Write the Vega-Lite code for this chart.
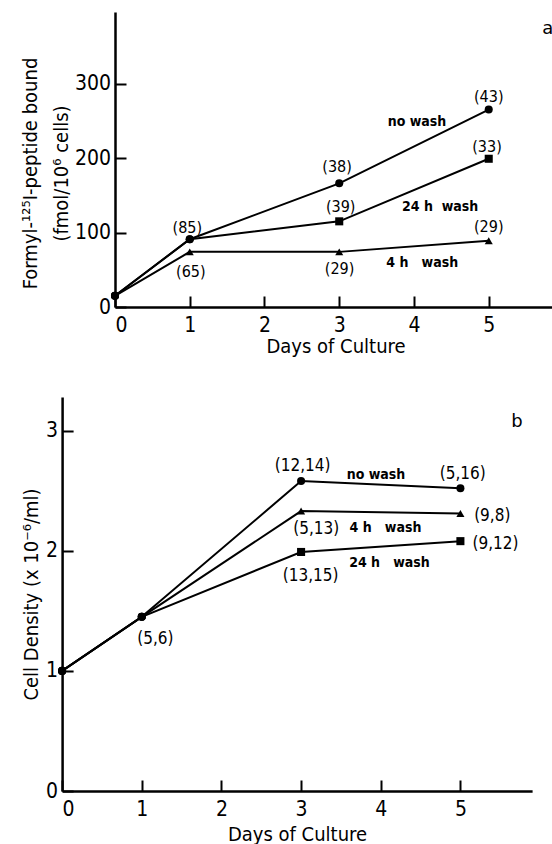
{
  "$schema": "https://vega.github.io/schema/vega-lite/v6.json",
  "background": "white",
  "padding": {"left": 20, "top": 12, "right": 0, "bottom": 0},
  "spacing": 41,
  "config": {
    "view": {"stroke": null},
    "axis": {
      "grid": false,
      "domainColor": "black",
      "domainWidth": 2.5,
      "tickColor": "black",
      "tickWidth": 2,
      "tickSize": -11,
      "labelFont": "DejaVu Sans Condensed",
      "labelFontSize": 21,
      "labelColor": "black",
      "titleFont": "DejaVu Sans Condensed",
      "titleFontSize": 20,
      "titleFontWeight": "normal",
      "titleColor": "black",
      "format": "d"
    },
    "axisX": {"labelPadding": 18, "titlePadding": 1},
    "axisY": {"labelPadding": 15.5, "titlePadding": 3}
  },
  "datasets": {
    "a_pts": [
      {"series": "no wash", "day": 0, "value": 15},
      {"series": "no wash", "day": 1, "value": 91},
      {"series": "no wash", "day": 3, "value": 166},
      {"series": "no wash", "day": 5, "value": 265},
      {"series": "24 h wash", "day": 0, "value": 15},
      {"series": "24 h wash", "day": 1, "value": 91},
      {"series": "24 h wash", "day": 3, "value": 115},
      {"series": "24 h wash", "day": 5, "value": 199},
      {"series": "4 h wash", "day": 0, "value": 15},
      {"series": "4 h wash", "day": 1, "value": 74},
      {"series": "4 h wash", "day": 3, "value": 74},
      {"series": "4 h wash", "day": 5, "value": 89}
    ],
    "a_txt": [
      {"kind": "n", "text": "(85)", "day": 0.967, "value": 99.6},
      {"kind": "n", "text": "(65)", "day": 1.014, "value": 40},
      {"kind": "n", "text": "(38)", "day": 2.971, "value": 181},
      {"kind": "n", "text": "(39)", "day": 3.019, "value": 127.3},
      {"kind": "n", "text": "(29)", "day": 3.005, "value": 44.6},
      {"kind": "n", "text": "(43)", "day": 5.0, "value": 275},
      {"kind": "n", "text": "(33)", "day": 4.977, "value": 208.7},
      {"kind": "n", "text": "(29)", "day": 5.0, "value": 100.4},
      {"kind": "series", "text": "no wash", "day": 4.04, "value": 242.3},
      {"kind": "series", "text": "24 h\u00a0\u00a0wash", "day": 4.35, "value": 128.6},
      {"kind": "series", "text": "4 h\u00a0\u00a0\u00a0wash", "day": 4.11, "value": 53.4},
      {"kind": "panel", "text": "a", "day": 5.79, "value": 366.7}
    ],
    "b_pts": [
      {"series": "no wash", "day": 0, "value": 1.0},
      {"series": "no wash", "day": 1, "value": 1.45},
      {"series": "no wash", "day": 3, "value": 2.58},
      {"series": "no wash", "day": 5, "value": 2.52},
      {"series": "4 h wash", "day": 0, "value": 1.0},
      {"series": "4 h wash", "day": 1, "value": 1.45},
      {"series": "4 h wash", "day": 3, "value": 2.33},
      {"series": "4 h wash", "day": 5, "value": 2.31},
      {"series": "24 h wash", "day": 0, "value": 1.0},
      {"series": "24 h wash", "day": 1, "value": 1.45},
      {"series": "24 h wash", "day": 3, "value": 1.99},
      {"series": "24 h wash", "day": 5, "value": 2.08}
    ],
    "b_txt": [
      {"kind": "n", "text": "(12,14)", "day": 3.02, "value": 2.667},
      {"kind": "n", "text": "(5,16)", "day": 5.03, "value": 2.598},
      {"kind": "n", "text": "(9,8)", "day": 5.40, "value": 2.251},
      {"kind": "n", "text": "(9,12)", "day": 5.44, "value": 2.015},
      {"kind": "n", "text": "(5,13)", "day": 3.19, "value": 2.14},
      {"kind": "n", "text": "(13,15)", "day": 3.12, "value": 1.751},
      {"kind": "n", "text": "(5,6)", "day": 1.17, "value": 1.224},
      {"kind": "series", "text": "no wash", "day": 3.94, "value": 2.598},
      {"kind": "series", "text": "4 h\u00a0\u00a0\u00a0wash", "day": 4.06, "value": 2.154},
      {"kind": "series", "text": "24 h\u00a0\u00a0\u00a0wash", "day": 4.11, "value": 1.862},
      {"kind": "panel", "text": "b", "day": 5.71, "value": 3.028}
    ]
  },
  "vconcat": [
    {
      "width": 441,
      "height": 295,
      "layer": [
        {
          "data": {"name": "a_pts"},
          "mark": {"type": "line", "color": "black", "strokeWidth": 2},
          "encoding": {
            "x": {"field": "day", "type": "quantitative", "scale": {"domain": [0, 5.9], "nice": false},
              "axis": {"values": [0, 1, 2, 3, 4, 5], "title": "Days of Culture"}},
            "y": {"field": "value", "type": "quantitative", "scale": {"domain": [0, 396], "nice": false},
              "axis": {"values": [0, 100, 200, 300], "title": ["Formyl-\u00b9\u00b2\u2075I-peptide bound", "(fmol/10\u2076 cells)"], "titleLineHeight": 31, "titleY": 161}},
            "detail": {"field": "series"}
          }
        },
        {
          "data": {"name": "a_pts"},
          "mark": {"type": "point", "filled": true, "color": "black", "opacity": 1, "size": 65},
          "encoding": {
            "x": {"field": "day", "type": "quantitative"},
            "y": {"field": "value", "type": "quantitative"},
            "shape": {
              "condition": {"test": "datum.day == 0 || (datum.day == 1 && datum.series != '4 h wash')", "value": "circle"},
              "field": "series", "type": "nominal",
              "scale": {"domain": ["no wash", "24 h wash", "4 h wash"], "range": ["circle", "square", "triangle-up"]},
              "legend": null
            }
          }
        },
        {
          "data": {"name": "a_txt"},
          "transform": [{"filter": "datum.kind == 'n'"}],
          "mark": {"type": "text", "font": "DejaVu Sans Condensed", "fontSize": 16, "color": "black", "align": "center", "baseline": "alphabetic"},
          "encoding": {
            "x": {"field": "day", "type": "quantitative"},
            "y": {"field": "value", "type": "quantitative"},
            "text": {"field": "text"}
          }
        },
        {
          "data": {"name": "a_txt"},
          "transform": [{"filter": "datum.kind == 'series'"}],
          "mark": {"type": "text", "font": "DejaVu Sans Condensed", "fontSize": 14, "fontWeight": "bold", "color": "black", "align": "center", "baseline": "alphabetic"},
          "encoding": {
            "x": {"field": "day", "type": "quantitative"},
            "y": {"field": "value", "type": "quantitative"},
            "text": {"field": "text"}
          }
        },
        {
          "data": {"name": "a_txt"},
          "transform": [{"filter": "datum.kind == 'panel'"}],
          "mark": {"type": "text", "font": "DejaVu Sans", "fontSize": 18, "color": "black", "align": "center", "baseline": "alphabetic"},
          "encoding": {
            "x": {"field": "day", "type": "quantitative"},
            "y": {"field": "value", "type": "quantitative"},
            "text": {"field": "text"}
          }
        }
      ]
    },
    {
      "width": 417,
      "height": 394,
      "layer": [
        {
          "data": {"name": "b_pts"},
          "mark": {"type": "line", "color": "black", "strokeWidth": 2},
          "encoding": {
            "x": {"field": "day", "type": "quantitative", "scale": {"domain": [0, 5.9], "nice": false, "range": [-52.9, 417.1]},
              "axis": {"values": [0, 1, 2, 3, 4, 5], "title": "Days of Culture", "titlePadding": 5, "titleX": 182}},
            "y": {"field": "value", "type": "quantitative", "scale": {"domain": [0, 3.28], "nice": false},
              "axis": {"values": [0, 1, 2, 3], "title": "Cell Density (x 10\u207b\u2076/ml)", "titlePadding": 4, "offset": 52.9}},
            "detail": {"field": "series"}
          }
        },
        {
          "data": {"name": "b_pts"},
          "mark": {"type": "point", "filled": true, "color": "black", "opacity": 1, "size": 65},
          "encoding": {
            "x": {"field": "day", "type": "quantitative"},
            "y": {"field": "value", "type": "quantitative"},
            "shape": {
              "condition": {"test": "datum.day <= 1", "value": "circle"},
              "field": "series", "type": "nominal",
              "scale": {"domain": ["no wash", "24 h wash", "4 h wash"], "range": ["circle", "square", "triangle-up"]},
              "legend": null
            }
          }
        },
        {
          "data": {"name": "b_txt"},
          "transform": [{"filter": "datum.kind == 'n'"}],
          "mark": {"type": "text", "font": "DejaVu Sans Condensed", "fontSize": 17, "color": "black", "align": "center", "baseline": "alphabetic"},
          "encoding": {
            "x": {"field": "day", "type": "quantitative"},
            "y": {"field": "value", "type": "quantitative"},
            "text": {"field": "text"}
          }
        },
        {
          "data": {"name": "b_txt"},
          "transform": [{"filter": "datum.kind == 'series'"}],
          "mark": {"type": "text", "font": "DejaVu Sans Condensed", "fontSize": 14, "fontWeight": "bold", "color": "black", "align": "center", "baseline": "alphabetic"},
          "encoding": {
            "x": {"field": "day", "type": "quantitative"},
            "y": {"field": "value", "type": "quantitative"},
            "text": {"field": "text"}
          }
        },
        {
          "data": {"name": "b_txt"},
          "transform": [{"filter": "datum.kind == 'panel'"}],
          "mark": {"type": "text", "font": "DejaVu Sans", "fontSize": 18, "color": "black", "align": "center", "baseline": "alphabetic"},
          "encoding": {
            "x": {"field": "day", "type": "quantitative"},
            "y": {"field": "value", "type": "quantitative"},
            "text": {"field": "text"}
          }
        }
      ]
    }
  ]
}
